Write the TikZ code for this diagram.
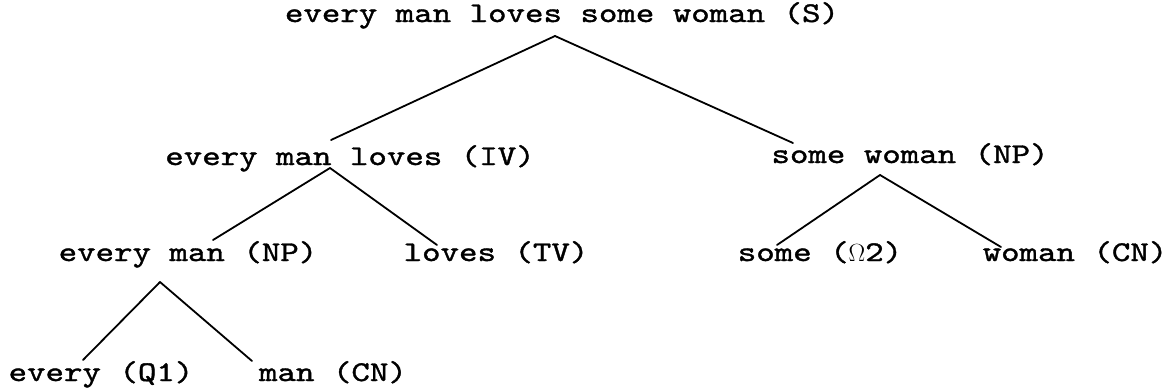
\documentclass[tikz,border=0pt]{standalone}
\usepackage{fontspec}
% typewriter face, widened to the spacing of the printout
\newfontfamily\typewriter{lmmono10-regular.otf}[FakeStretch=1.23, FakeBold=1.3]
\tikzset{
  lbl/.style={inner sep=0pt, anchor=base, font=\typewriter\fontsize{28.6}{34}\selectfont},
  branch/.style={line width=1.8pt, line cap=round}
}
\begin{document}
\begin{tikzpicture}[x=1pt, y=-1pt]
  \useasboundingbox (0,0) rectangle (1173,391);
  % category labels
  \node[lbl] (root) at (562,22)  {every man loves some woman (S)};
  \node[lbl] (iv)   at (350,165) {every man loves (IV)};
  \node[lbl] (swnp) at (910,163) {some woman (NP)};
  \node[lbl] (emnp) at (188,261) {every man (NP)};
  \node[lbl] (tv)   at (496,261) {loves (TV)};
  \node[lbl] (q2)   at (820,261) {some ($\Omega$2)};
  \node[lbl] (wcn)  at (1075,261){woman (CN)};
  \node[lbl] (q1)   at (101,381) {every (Q1)};
  \node[lbl] (mcn)  at (333,381) {man (CN)};
  % branch end points
  \coordinate (rootA) at ([shift={(-7,14)}]root.base);
  \coordinate (ivT)   at ([shift={(-19,-25)}]iv.base);
  \coordinate (ivA)   at ([shift={(-20,3)}]iv.base);
  \coordinate (swT)   at ([shift={(-117,-20)}]swnp.base);
  \coordinate (swA)   at ([shift={(-30,12)}]swnp.base);
  \coordinate (emT)   at ([shift={(25,-21)}]emnp.base);
  \coordinate (emA)   at ([shift={(-28,21)}]emnp.base);
  \coordinate (tvT)   at ([shift={(-59,-16)}]tv.base);
  \coordinate (q2T)   at ([shift={(-43,-16)}]q2.base);
  \coordinate (wcnT)  at ([shift={(-74,-14)}]wcn.base);
  \coordinate (q1T)   at ([shift={(-18,-21)}]q1.base);
  \coordinate (mcnT)  at ([shift={(-81,-20)}]mcn.base);
  % branches
  \draw[branch] (rootA) -- (ivT);
  \draw[branch] (rootA) -- (swT);
  \draw[branch] (ivA) -- (emT);
  \draw[branch] (ivA) -- (tvT);
  \draw[branch] (swA) -- (q2T);
  \draw[branch] (swA) -- (wcnT);
  \draw[branch] (emA) -- (q1T);
  \draw[branch] (emA) -- (mcnT);
\end{tikzpicture}
\end{document}
